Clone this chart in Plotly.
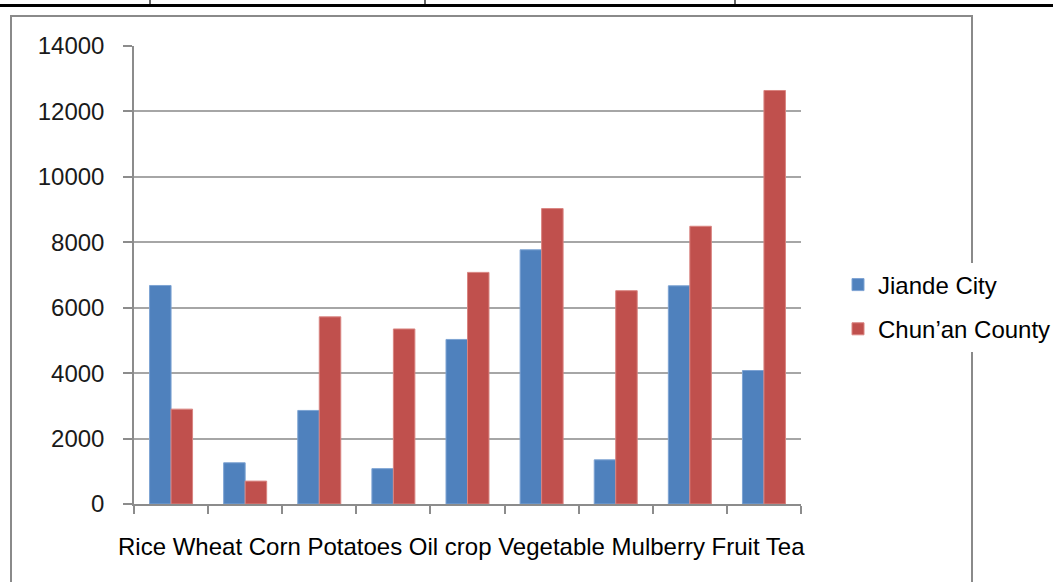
import plotly.graph_objects as go

categories = ["Rice", "Wheat", "Corn", "Potatoes", "Oil crop", "Vegetable", "Mulberry", "Fruit", "Tea"]
jiande = [6680, 1260, 2860, 1080, 5030, 7770, 1350, 6670, 4080]
chunan = [2900, 700, 5720, 5350, 7080, 9030, 6520, 8490, 12640]
series_names = ["Jiande City", "Chun\u2019an County"]
y_ticks = [0, 2000, 4000, 6000, 8000, 10000, 12000, 14000]

W, H = 1053, 582
L, R, T, B = 134, 252, 46, 78
PW, PH = W - L - R, H - T - B


def px_x(x):
    return (x - L) / PW


def px_y(y):
    return (H - B - y) / PH


FONT = "Liberation Sans, Arial, sans-serif"
GRID = "#a6a6a6"
AXIS = "#8c8c8c"

fig = go.Figure()
fig.add_trace(go.Bar(x=categories, y=jiande, name=series_names[0], legendgroup="a",
                     marker=dict(color="#4F81BD", line=dict(color="#7DA3D3", width=1))))
fig.add_trace(go.Bar(x=categories, y=chunan, name=series_names[1], legendgroup="b",
                     marker=dict(color="#C0504D", line=dict(color="#D98480", width=1))))

shapes = []
# chart frame
shapes.append(dict(type="rect", xref="paper", yref="paper",
                   x0=px_x(11), x1=px_x(972), y0=px_y(640), y1=px_y(16),
                   line=dict(color="#8a8a8a", width=2), fillcolor="rgba(0,0,0,0)", layer="below"))
# table lines at the top
shapes.append(dict(type="line", xref="paper", yref="paper",
                   x0=px_x(-5), x1=px_x(1060), y0=px_y(5.5), y1=px_y(5.5),
                   line=dict(color="black", width=3)))
for xv in [150, 425, 735]:
    shapes.append(dict(type="line", xref="paper", yref="paper",
                       x0=px_x(xv), x1=px_x(xv), y0=px_y(-2), y1=px_y(5.5),
                       line=dict(color="black", width=1.2)))

fig.update_layout(
    width=W, height=H,
    margin=dict(l=L, r=R, t=T, b=B, autoexpand=False),
    paper_bgcolor="white", plot_bgcolor="white",
    barmode="group", bargap=0.42, bargroupgap=0,
    font=dict(family=FONT, size=24, color="black"),
    showlegend=True,
    legend=dict(x=px_x(838), xanchor="left", y=px_y(307), yanchor="middle",
                bgcolor="white", borderwidth=0, traceorder="grouped", tracegroupgap=10,
                font=dict(family=FONT, size=24, color="black")),
    shapes=shapes,
    annotations=[dict(text=" ".join(categories), xref="paper", yref="paper",
                      x=px_x(116), xanchor="left", y=px_y(546), yanchor="middle",
                      showarrow=False, font=dict(family=FONT, size=24, color="black"))],
)

fig.update_xaxes(showticklabels=False, showgrid=False, showline=True, linecolor=AXIS, linewidth=1.5,
                 ticks="outside", ticklen=8, tickcolor=AXIS, tickwidth=1.5, tickson="boundaries",
                 zeroline=False)
fig.update_yaxes(range=[0, 14000], tickvals=y_ticks, tickformat="d", showgrid=True, gridcolor=GRID,
                 gridwidth=1.5, showline=True, linecolor=AXIS, linewidth=1.5, ticks="outside", ticklen=9,
                 tickcolor=AXIS, tickwidth=1.5, zeroline=False, ticklabelstandoff=14,
                 tickfont=dict(family=FONT, size=24, color="#1a1a1a"))

fig.write_html("out.html", config={"displayModeBar": False},
               post_script="document.body.style.margin='0';document.body.style.overflow='hidden';")
